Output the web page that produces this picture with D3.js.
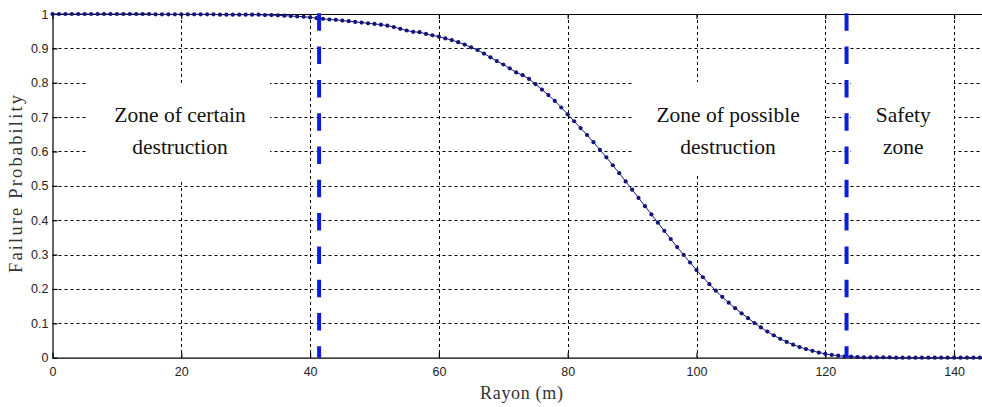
<!DOCTYPE html>
<html>
<head>
<meta charset="utf-8">
<script src="https://cdn.jsdelivr.net/npm/d3@7"></script>
<style>
  html, body { margin: 0; padding: 0; background: #fff; }
  svg { display: block; }
</style>
</head>
<body>
<svg id="chart" width="982" height="407"></svg>
<script>
// ---------- data ----------
const rayon = d3.range(0, 146); // 0..145 m, 1 m step
const failureProb = [
  1.000,1.000,1.000,1.000,1.000,1.000,1.000,1.000,1.000,1.000,
  1.000,1.000,1.000,1.000,1.000,1.000,0.999,0.999,0.999,0.999,
  0.999,0.999,0.999,0.999,0.999,0.999,0.998,0.998,0.998,0.998,
  0.998,0.998,0.998,0.997,0.997,0.996,0.995,0.994,0.993,0.992,
  0.990,0.988,0.986,0.984,0.983,0.981,0.979,0.977,0.975,0.973,
  0.971,0.969,0.966,0.962,0.957,0.952,0.948,0.947,0.942,0.938,
  0.934,0.929,0.924,0.918,0.911,0.903,0.895,0.885,0.874,0.863,
  0.853,0.842,0.830,0.822,0.811,0.796,0.780,0.764,0.747,0.728,
  0.708,0.688,0.668,0.648,0.627,0.605,0.583,0.560,0.537,0.513,
  0.489,0.465,0.441,0.417,0.393,0.369,0.345,0.322,0.299,0.277,
  0.255,0.234,0.214,0.195,0.177,0.160,0.144,0.129,0.115,0.101,
  0.088,0.076,0.065,0.055,0.046,0.038,0.031,0.025,0.020,0.015,
  0.011,0.008,0.006,0.004,0.003,0.002,0.001,0.001,0.001,0.001,
  0.001,0.000,0.000,0.000,0.000,0.000,0.000,0.000,0.000,0.000,
  0.000,0.000,0.000,0.000,0.000,0.000
];
const xTicks = [0, 20, 40, 60, 80, 100, 120, 140];
const yTicks = [0, 0.1, 0.2, 0.3, 0.4, 0.5, 0.6, 0.7, 0.8, 0.9, 1];
const zoneBounds = [41.4, 123.3];
const zoneLabels = [["Zone of certain", "destruction"], ["Zone of possible", "destruction"], ["Safety", "zone"]];
const zoneLabelX = [19.8, 104.9, 132.1];
const xTitle = "Rayon (m)";
const yTitle = "Failure Probability";

// ---------- layout ----------
const svg = d3.select("#chart");
const L = 52.5, T = 14, B = 357.7, pxPerUnit = 6.44;
const x = d3.scaleLinear().domain([0, 145]).range([L, L + 145 * pxPerUnit]);
const y = d3.scaleLinear().domain([0, 1]).range([B, T]);
const R = 982;

const tickFont = "'Liberation Sans Narrow','Arial Narrow','Liberation Sans',Arial,sans-serif";
const serif = "'Liberation Serif','Times New Roman',Times,serif";

// grid
const grid = svg.append("g").attr("stroke", "#000").attr("stroke-width", 1)
  .attr("stroke-dasharray", "3,3").attr("fill", "none");
grid.selectAll("line.v").data(xTicks.filter(d => d > 0)).enter().append("line")
  .attr("x1", d => Math.round(x(d)) + 0.5).attr("x2", d => Math.round(x(d)) + 0.5)
  .attr("y1", T).attr("y2", B);
grid.selectAll("line.h").data(yTicks.filter(d => d > 0 && d < 1)).enter().append("line")
  .attr("x1", L).attr("x2", R)
  .attr("y1", d => Math.round(y(d)) + 0.5).attr("y2", d => Math.round(y(d)) + 0.5);

// axes
const xAxis = d3.axisBottom(x).tickValues(xTicks).tickFormat(d3.format("d"))
  .tickSizeInner(-5).tickSizeOuter(0).tickPadding(9);
const gx = svg.append("g").attr("transform", `translate(0,${B})`).call(xAxis);
gx.select(".domain").attr("d", `M${L},0.5H${R}`);
const yAxis = d3.axisLeft(y).tickValues(yTicks).tickFormat(d => d === 0 ? "0" : d === 1 ? "1" : d3.format(".1f")(d))
  .tickSizeInner(-5).tickSizeOuter(0).tickPadding(4);
const gy = svg.append("g").attr("transform", `translate(${L},0)`).call(yAxis);
const xTop = d3.axisTop(x).tickValues(xTicks).tickFormat("").tickSizeInner(-5).tickSizeOuter(0);
const gt = svg.append("g").attr("transform", `translate(0,${T})`).call(xTop);
gt.select(".domain").attr("d", `M${L},0.5H${R}`);
[gx, gy, gt].forEach(g => {
  g.selectAll("path, line").attr("stroke", "#000").attr("stroke-width", 1.2);
  g.selectAll("text").attr("font-family", tickFont).attr("font-size", 12.5).attr("fill", "#222");
});

// curve
const pts = rayon.map((r, i) => [r, failureProb[i]]);
svg.append("clipPath").attr("id", "clip").append("rect")
  .attr("x", L - 3).attr("y", T - 4).attr("width", R - L + 3).attr("height", B - T + 8);
const curveG = svg.append("g").attr("clip-path", "url(#clip)");
curveG.append("path").datum(pts)
  .attr("d", d3.line().x(d => x(d[0])).y(d => y(d[1])))
  .attr("fill", "none").attr("stroke", "#1a1a86").attr("stroke-width", 1);
curveG.selectAll("circle").data(pts).enter().append("circle")
  .attr("cx", d => x(d[0])).attr("cy", d => y(d[1])).attr("r", 2.1)
  .attr("fill", "#14147a");

// zone label backgrounds + text
const boxes = [
  {x0: 88, x1: 270, y0: 83, y1: 181},
  {x0: 633, x1: 825, y0: 82, y1: 175},
  {x0: 851, x1: 954, y0: 82, y1: 175}
];
svg.selectAll("rect.zbg").data(boxes).enter().append("rect")
  .attr("x", d => d.x0).attr("y", d => d.y0)
  .attr("width", d => d.x1 - d.x0).attr("height", d => d.y1 - d.y0)
  .attr("fill", "#fff");
zoneLabels.forEach((lines, i) => {
  const t = svg.append("text").attr("text-anchor", "middle")
    .attr("font-family", serif).attr("font-size", 21.5).attr("fill", "#111");
  lines.forEach((ln, j) => {
    t.append("tspan").attr("x", x(zoneLabelX[i])).attr("y", 121.5 + j * 32.5).text(ln);
  });
});

// zone boundaries
svg.selectAll("line.zone").data(zoneBounds).enter().append("line")
  .attr("x1", d => x(d)).attr("x2", d => x(d))
  .attr("y1", T - 0.7).attr("y2", B)
  .attr("stroke", "#0c1ed8").attr("stroke-width", 4)
  .attr("stroke-dasharray", "17.5,15.8");

// titles
svg.append("text").attr("x", 521.5).attr("y", 399).attr("text-anchor", "middle")
  .attr("font-family", serif).attr("font-size", 18).attr("fill", "#333")
  .attr("textLength", 83).attr("lengthAdjust", "spacing").text(xTitle);
svg.append("text").attr("transform", "translate(22,184) rotate(-90)")
  .attr("text-anchor", "middle").attr("font-family", serif).attr("font-size", 18.5)
  .attr("fill", "#333").attr("textLength", 178).attr("lengthAdjust", "spacing").text(yTitle);
</script>
</body>
</html>
